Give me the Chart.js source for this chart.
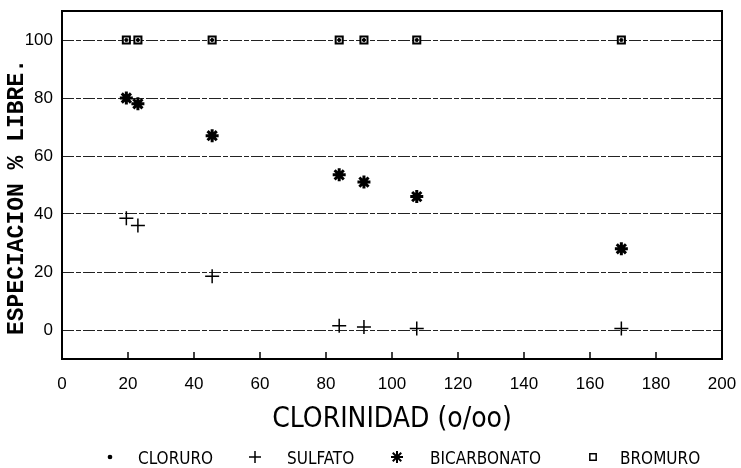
<!DOCTYPE html>
<html>
<head>
<meta charset="utf-8">
<script src="https://cdn.jsdelivr.net/npm/chart.js@4.4.1/dist/chart.umd.min.js"></script>
<style>
  html, body { margin: 0; padding: 0; background: #fff; }
  #wrap { width: 741px; height: 468px; position: relative; }
</style>
</head>
<body>
<div id="wrap"><canvas id="c"></canvas></div>
<script>
// Chlorinity (o/oo) of each sample
const clorinidad = [19.5, 23, 45.5, 84, 91.5, 107.5, 169.5];
// Free fraction (%) of each ion
const cloruro = [100, 100, 100, 100, 100, 100, 100];
const sulfato = [38.5, 36, 18.5, 1.5, 1, 0.5, 0.5];
const bicarbonato = [80, 78, 67, 53.5, 51, 46, 28];
const bromuro = [100, 100, 100, 100, 100, 100, 100];

const xTicks = [0, 20, 40, 60, 80, 100, 120, 140, 160, 180, 200];
const yTicks = [0, 20, 40, 60, 80, 100];
const seriesNames = ['CLORURO', 'SULFATO', 'BICARBONATO', 'BROMURO'];
const xTitle = 'CLORINIDAD (o/oo)';
const yTitle = 'ESPECIACION % LIBRE.';

const narrow = '"Liberation Sans Narrow", "DejaVu Sans Condensed", "Liberation Sans", sans-serif';

const pts = ys => clorinidad.map((x, i) => ({ x, y: ys[i] }));

const styles = [
  { pointStyle: 'circle', pointRadius: 1.6, borderWidth: 1, backgroundColor: '#000' },
  { pointStyle: 'cross', pointRadius: 7, borderWidth: 1.5, backgroundColor: '#000' },
  { pointStyle: 'star', pointRadius: 6.5, borderWidth: 3, backgroundColor: '#000' },
  { pointStyle: 'rect', pointRadius: 5, borderWidth: 2, backgroundColor: '#fff' }
];
const values = [cloruro, sulfato, bicarbonato, bromuro];

// squares drawn first so the chloride dots sit inside them
const datasets = seriesNames.map((name, i) => ({
  label: name,
  data: pts(values[i]),
  borderColor: '#000',
  showLine: false,
  order: i === 0 ? 0 : 4 - i,
  ...styles[i],
  pointHoverRadius: styles[i].pointRadius
}));

// frame, inward x ticks, vertical axis title and legend row
const decorations = {
  id: 'decorations',
  afterDraw(chart) {
    const { ctx, chartArea: a, scales: { x } } = chart;
    ctx.save();
    ctx.strokeStyle = '#000';
    ctx.lineWidth = 2;
    ctx.strokeRect(a.left, a.top, a.right - a.left, a.bottom - a.top);

    ctx.lineWidth = 1.5;
    xTicks.slice(1, -1).forEach(v => {
      const px = x.getPixelForValue(v);
      ctx.beginPath();
      ctx.moveTo(px, a.bottom);
      ctx.lineTo(px, a.bottom - 7);
      ctx.stroke();
    });

    ctx.fillStyle = '#000';
    ctx.save();
    ctx.translate(17, 197);
    ctx.rotate(-Math.PI / 2);
    ctx.textAlign = 'center';
    ctx.textBaseline = 'middle';
    ctx.font = 'bold 23px "Liberation Mono", "Courier New", monospace';
    ctx.fillText(yTitle, 0, 0);
    ctx.restore();

    const markerX = [110, 255, 397, 593];
    const textX = [138, 287, 430, 620];
    const legendY = 460;
    ctx.font = '17px ' + narrow;
    ctx.textAlign = 'left';
    ctx.textBaseline = 'middle';
    chart.data.datasets.forEach((ds, i) => {
      const st = styles[i];
      ctx.fillStyle = st.pointStyle === 'rect' ? '#fff' : '#000';
      ctx.strokeStyle = '#000';
      ctx.lineWidth = st.pointStyle === 'star' ? 2 : 1.5;
      const r = st.pointStyle === 'circle' ? 1.6 : (st.pointStyle === 'rect' ? 4.5 : 6);
      Chart.helpers.drawPoint(ctx, { pointStyle: st.pointStyle, radius: r, borderWidth: ctx.lineWidth, rotation: 0 }, markerX[i], legendY - 3);
      ctx.fillStyle = '#000';
      ctx.fillText(ds.label, textX[i], legendY);
    });
    ctx.restore();
  }
};

new Chart(document.getElementById('c'), {
  type: 'scatter',
  data: { datasets },
  options: {
    responsive: true,
    maintainAspectRatio: false,
    animation: false,
    layout: { padding: { left: 0, right: 19, top: 11, bottom: 30 } },
    plugins: { legend: { display: false }, tooltip: { enabled: false } },
    scales: {
      x: {
        type: 'linear',
        min: 0,
        max: 200,
        afterBuildTicks: s => { s.ticks = xTicks.map(v => ({ value: v })); },
        afterFit: s => { s.height = 79; s.paddingLeft = 0; s.paddingRight = 0; },
        grid: { display: false, drawTicks: false },
        border: { display: false },
        ticks: { color: '#000', padding: 15, maxRotation: 0, autoSkip: false, font: { family: '"Liberation Sans", sans-serif', size: 17 } },
        title: {
          display: true,
          text: xTitle,
          color: '#000',
          padding: { top: 0, bottom: 1 },
          font: { family: narrow, size: 28 }
        }
      },
      y: {
        type: 'linear',
        min: -10,
        max: 110,
        afterBuildTicks: s => { s.ticks = yTicks.map(v => ({ value: v })); },
        afterFit: s => { s.width = 62; s.paddingTop = 0; s.paddingBottom = 0; },
        grid: { color: '#222', lineWidth: 1, drawTicks: false },
        border: { display: false, dash: [12, 2, 5, 2] },
        ticks: { color: '#000', padding: 9, font: { family: '"Liberation Sans", sans-serif', size: 17 } }
      }
    }
  },
  plugins: [decorations]
});
</script>
</body>
</html>
